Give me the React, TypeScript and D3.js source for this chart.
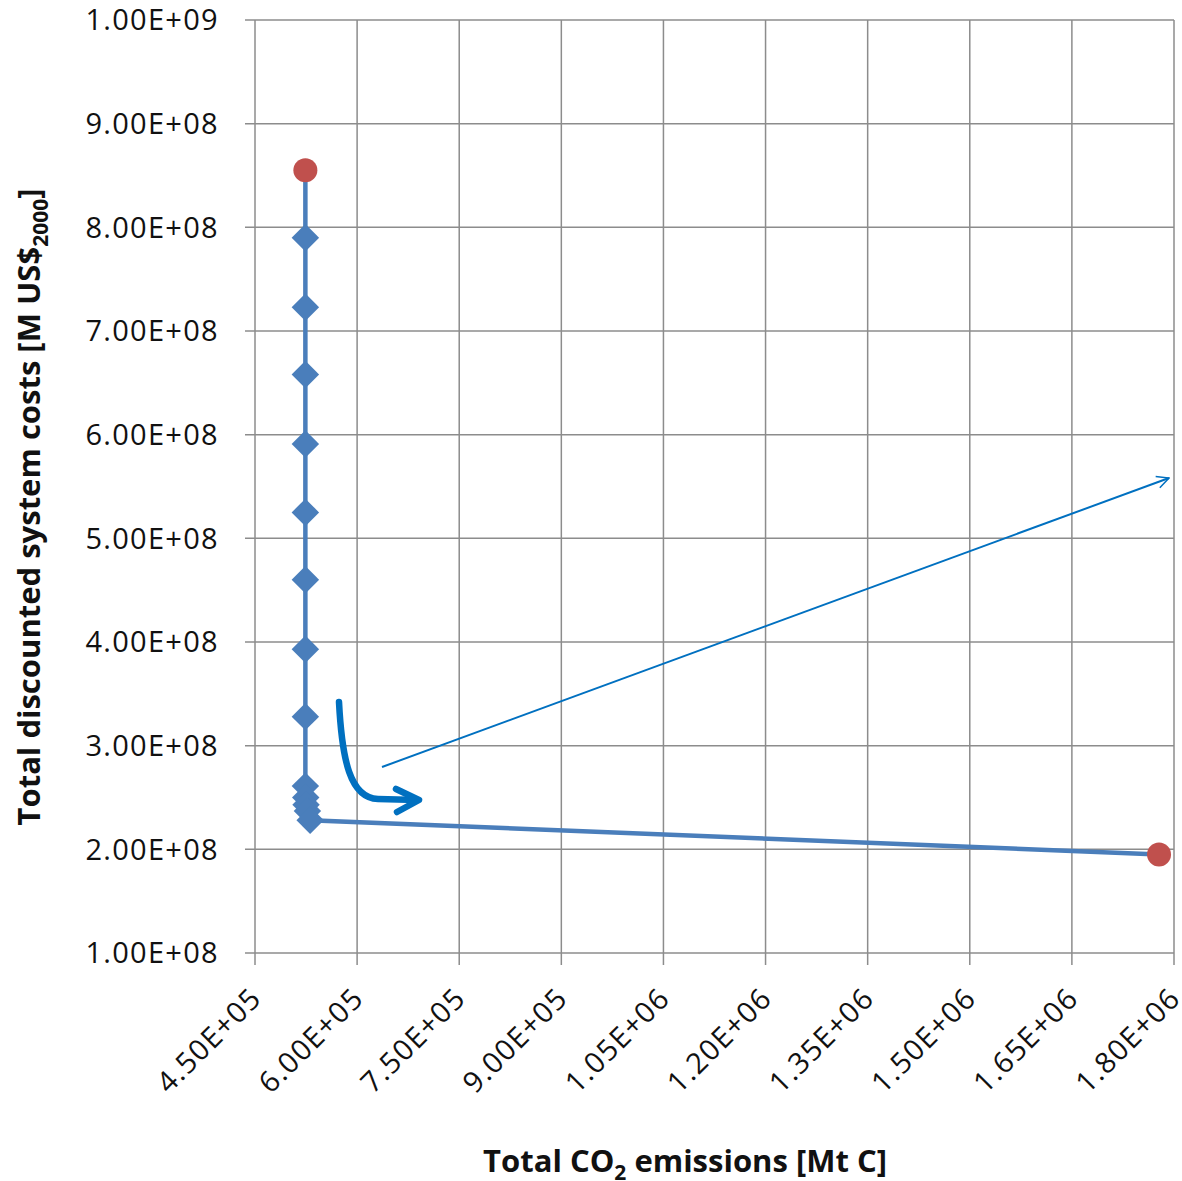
import React from "react";
import * as d3 from "d3";

const W = 1182;
const H = 1181;

// Pareto series (Excel-style): emissions [Mt C] and costs [M US$2000]
const emissions = [524000, 524000, 524000, 524000, 524000, 524000, 524000, 524000, 524000, 524000, 524500, 525000, 527000, 531000, 1778000];
const costs = [8.55e8, 7.9e8, 7.23e8, 6.58e8, 5.91e8, 5.25e8, 4.6e8, 3.93e8, 3.28e8, 2.61e8, 2.5e8, 2.43e8, 2.37e8, 2.28e8, 1.95e8];
// indices of the highlighted (red) end points
const highlighted = [0, 14];

const xTicks = [4.5e5, 6.0e5, 7.5e5, 9.0e5, 1.05e6, 1.2e6, 1.35e6, 1.5e6, 1.65e6, 1.8e6];
const yTicks = [1e8, 2e8, 3e8, 4e8, 5e8, 6e8, 7e8, 8e8, 9e8, 1e9];

const fmt = (v: number) => {
  const e = Math.floor(Math.log10(v) + 1e-9);
  const m = v / Math.pow(10, e);
  return `${m.toFixed(2)}E+${String(e).padStart(2, "0")}`;
};

const FONT = "'Open Sans', 'Liberation Sans', sans-serif";

export default function App() {
  const x = d3.scaleLinear().domain([4.5e5, 1.8e6]).range([255, 1174]);
  const y = d3.scaleLinear().domain([1e8, 1e9]).range([953, 20]);
  const line = d3
    .line<number>()
    .x((i) => x(emissions[i]))
    .y((i) => y(costs[i]));
  const idx = emissions.map((_, i) => i);
  const diamond = d3.symbol().type(d3.symbolDiamond2).size(480)();
  const grid = "#8c8c8c";
  const blue = "#4a7ebb";
  const red = "#c0504d";
  const arrow = "#0070c0";

  return (
    <svg
      width={W}
      height={H}
      style={{ position: "absolute", left: 0, top: 0, background: "#fff" }}
      fontFamily={FONT}
    >
      <defs>
        <marker id="thinHead" viewBox="0 0 20 20" refX="18" refY="10" markerWidth="15" markerHeight="15" markerUnits="userSpaceOnUse" orient="auto">
          <path d="M2,2 L18,10 L2,18" fill="none" stroke={arrow} strokeWidth="2" />
        </marker>
      </defs>
      {/* grid */}
      {yTicks.map((t) => (
        <line key={"gy" + t} x1={245} x2={1174} y1={y(t)} y2={y(t)} stroke={grid} strokeWidth={1.5} />
      ))}
      {xTicks.map((t) => (
        <line key={"gx" + t} x1={x(t)} x2={x(t)} y1={20} y2={965} stroke={grid} strokeWidth={1.5} />
      ))}
      {/* y tick labels */}
      {yTicks.map((t) => (
        <text key={"ly" + t} x={219} y={y(t)} dy="0.36em" textAnchor="end" fontSize={29} letterSpacing={1.3} fill="#111">
          {fmt(t)}
        </text>
      ))}
      {/* x tick labels */}
      {xTicks.map((t) => (
        <text
          key={"lx" + t}
          transform={`translate(${x(t) + 1},${993}) rotate(-45)`}
          textAnchor="end"
          dy="0.35em"
          fontSize={29}
          letterSpacing={1.3}
          fill="#111"
        >
          {fmt(t)}
        </text>
      ))}
      {/* series line */}
      <path d={line(idx) || ""} fill="none" stroke={blue} strokeWidth={4.5} />
      {idx
        .filter((i) => !highlighted.includes(i))
        .map((i) => (
          <path key={"d" + i} d={diamond || ""} transform={`translate(${x(emissions[i])},${y(costs[i])})`} fill={blue} />
        ))}
      {highlighted.map((i) => (
        <circle key={"r" + i} cx={x(emissions[i])} cy={y(costs[i])} r={12} fill={red} />
      ))}
      {/* annotation arrows */}
      <path d="M339,702 C342,760 350,798 378,799 L417,800" fill="none" stroke={arrow} strokeWidth={6.5} strokeLinecap="round" />
      <path d="M396,789 L419,800 L397,812" fill="none" stroke={arrow} strokeWidth={6.5} strokeLinecap="round" strokeLinejoin="round" />
      <line x1={382} y1={767} x2={1169} y2={478} stroke={arrow} strokeWidth={2} markerEnd="url(#thinHead)" />
      {/* axis titles */}
      <text x={685} y={1172} textAnchor="middle" fontSize={31} fontWeight="bold" fill="#111">
        Total CO<tspan fontSize={21} dy={8}>2</tspan>
        <tspan dy={-8}> emissions [Mt C]</tspan>
      </text>
      <text transform="translate(40,507) rotate(-90)" textAnchor="middle" fontSize={31} fontWeight="bold" fill="#111">
        Total discounted system costs [M US$<tspan fontSize={21} dy={8}>2000</tspan>
        <tspan dy={-8}>]</tspan>
      </text>
    </svg>
  );
}
